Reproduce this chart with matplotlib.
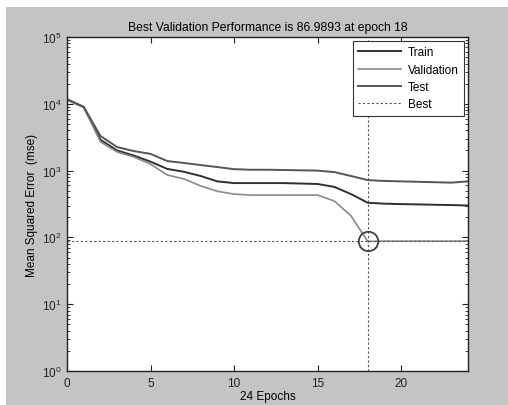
import matplotlib
matplotlib.use("Agg")
import matplotlib.pyplot as plt
from matplotlib.patches import Rectangle

plt.rcParams["font.family"] = ["Liberation Sans", "DejaVu Sans"]
plt.rcParams["font.size"] = 8.5

# performance values
epochs = list(range(25))
train = [11500, 8900, 2900, 2000, 1680, 1360, 1060, 960, 830, 690, 650,
         650, 650, 650, 640, 630, 570, 445, 330, 320, 315, 312, 308, 305, 300]
validation = [11500, 8900, 2700, 1900, 1600, 1250, 860, 750, 590, 490, 445,
              430, 430, 430, 430, 430, 350, 210, 87, 88, 88, 88, 88, 88, 88]
test = [11800, 9000, 3300, 2250, 1960, 1780, 1390, 1300, 1210, 1130, 1050,
        1030, 1030, 1020, 1010, 1000, 950, 830, 720, 700, 690, 680, 670, 660, 690]
best_epoch = 18
best_perf = 86.9893

fig = plt.figure(figsize=(5.08, 4.06), dpi=100, facecolor="white")
fig.patches.append(Rectangle((6 / 508, 0), 1, (406 - 8) / 406,
                             transform=fig.transFigure, facecolor="#c4c4c4",
                             edgecolor="none", zorder=-1))
ax = fig.add_axes([67 / 508, 34 / 406, 401 / 508, 334 / 406])

ax.semilogy(epochs, train, color="#303030", lw=1.4, label="Train")
ax.semilogy(epochs, validation, color="#8a8a8a", lw=1.2, label="Validation")
ax.semilogy(epochs, test, color="#555555", lw=1.4, label="Test")
ax.axvline(best_epoch, color="#555555", ls=(0, (2, 2)), lw=0.8, label="Best")
ax.axhline(best_perf, color="#555555", ls=(0, (2, 2)), lw=0.8)
ax.plot([best_epoch], [best_perf], "o", ms=14, mfc="none", mec="#404040", mew=1.3)

ax.set_xlim(0, 24)
ax.set_ylim(1, 1e5)
ax.set_xticks([0, 5, 10, 15, 20])
ax.tick_params(which="both", direction="in", top=True, right=True, colors="#222222",
               labelsize=8.5)
ax.tick_params(which="major", length=4, pad=4)
ax.tick_params(which="minor", length=2)
for s in ax.spines.values():
    s.set_linewidth(1.0)
    s.set_color("#222222")

ax.set_title("Best Validation Performance is 86.9893 at epoch 18", fontsize=8.7, pad=5)
ax.set_xlabel("24 Epochs", labelpad=1)
ax.set_ylabel("Mean Squared Error  (mse)", labelpad=3)

leg = ax.legend(loc="upper right", fancybox=False, edgecolor="#333333",
                framealpha=1, handlelength=3.6, borderaxespad=0.35,
                labelspacing=0.45, borderpad=0.45, handletextpad=0.6, fontsize=8.5)
leg.get_frame().set_linewidth(0.8)

fig.savefig("out.png", dpi=100, facecolor=fig.get_facecolor())
